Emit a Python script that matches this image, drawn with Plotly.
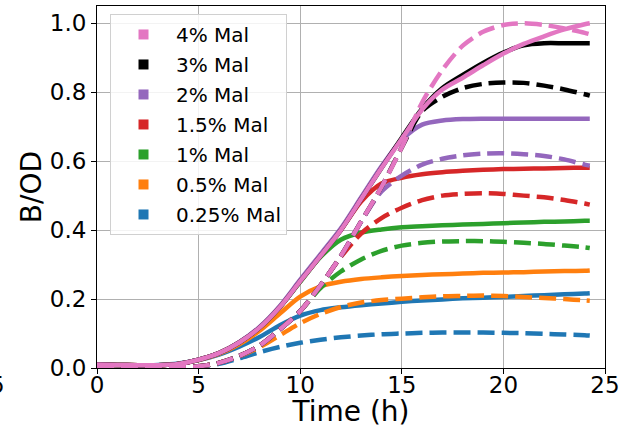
import plotly.graph_objects as go

# Sampling times (h)
time_h = [0, 1, 2, 3, 4, 5, 6, 7, 8, 9, 10, 11, 12, 13, 14, 15, 16, 17, 18, 19,
          20, 21, 22, 23, 24, 24.25]

labels = ["4% Mal", "3% Mal", "2% Mal", "1.5% Mal", "1% Mal", "0.5% Mal", "0.25% Mal"]
colors = ["#e377c2", "#000000", "#9467bd", "#d62728", "#2ca02c", "#ff7f0e", "#1f77b4"]

# Measured B/OD (solid lines)
meas_4 = [0.010, 0.009, 0.008, 0.008, 0.012, 0.024, 0.043, 0.074, 0.117, 0.177, 0.252,
          0.325, 0.400, 0.490, 0.580, 0.665, 0.750, 0.808, 0.842, 0.878, 0.912, 0.940,
          0.962, 0.982, 0.997, 1.000]
meas_3 = [0.010, 0.009, 0.008, 0.008, 0.012, 0.024, 0.043, 0.074, 0.117, 0.177, 0.252,
          0.325, 0.400, 0.490, 0.580, 0.668, 0.752, 0.812, 0.850, 0.885, 0.915, 0.936,
          0.942, 0.942, 0.942, 0.942]
meas_2 = [0.010, 0.009, 0.008, 0.008, 0.012, 0.024, 0.043, 0.075, 0.119, 0.180, 0.256,
          0.330, 0.405, 0.495, 0.585, 0.662, 0.706, 0.718, 0.722, 0.723, 0.723, 0.723,
          0.723, 0.723, 0.723, 0.723]
meas_15 = [0.010, 0.009, 0.008, 0.008, 0.012, 0.024, 0.043, 0.074, 0.117, 0.177, 0.252,
           0.325, 0.400, 0.483, 0.535, 0.552, 0.562, 0.568, 0.572, 0.575, 0.577, 0.578,
           0.579, 0.580, 0.581, 0.581]
meas_1 = [0.010, 0.009, 0.008, 0.008, 0.012, 0.024, 0.043, 0.074, 0.117, 0.177, 0.250,
          0.322, 0.372, 0.393, 0.402, 0.408, 0.411, 0.414, 0.416, 0.418, 0.420, 0.422,
          0.424, 0.425, 0.427, 0.427]
meas_05 = [0.010, 0.009, 0.008, 0.008, 0.012, 0.023, 0.041, 0.069, 0.108, 0.158, 0.207,
           0.237, 0.250, 0.258, 0.263, 0.267, 0.270, 0.272, 0.274, 0.276, 0.277, 0.278,
           0.280, 0.281, 0.282, 0.283]
meas_025 = [0.010, 0.009, 0.008, 0.009, 0.013, 0.023, 0.039, 0.062, 0.090, 0.124, 0.152,
            0.168, 0.176, 0.182, 0.187, 0.192, 0.196, 0.199, 0.202, 0.204, 0.206, 0.209,
            0.211, 0.214, 0.216, 0.217]

# Model B/OD (dashed lines)
model_4 = [0.002, 0.002, 0.002, 0.002, 0.003, 0.005, 0.015, 0.035, 0.065, 0.112, 0.165,
           0.240, 0.325, 0.425, 0.525, 0.640, 0.770, 0.865, 0.935, 0.975, 0.995, 1.000,
           0.995, 0.985, 0.972, 0.968]
model_3 = [0.002, 0.002, 0.002, 0.002, 0.003, 0.005, 0.015, 0.035, 0.065, 0.112, 0.165,
           0.240, 0.325, 0.425, 0.525, 0.640, 0.745, 0.787, 0.812, 0.824, 0.828, 0.827,
           0.819, 0.808, 0.794, 0.790]
model_2 = [0.002, 0.002, 0.002, 0.002, 0.003, 0.005, 0.015, 0.035, 0.065, 0.112, 0.165,
           0.240, 0.325, 0.425, 0.512, 0.558, 0.590, 0.607, 0.617, 0.622, 0.623, 0.620,
           0.615, 0.605, 0.590, 0.587]
model_15 = [0.002, 0.002, 0.002, 0.002, 0.003, 0.005, 0.015, 0.035, 0.065, 0.112, 0.165,
            0.240, 0.322, 0.390, 0.435, 0.465, 0.487, 0.500, 0.505, 0.507, 0.505, 0.500,
            0.495, 0.487, 0.477, 0.474]
model_1 = [0.002, 0.002, 0.002, 0.002, 0.003, 0.005, 0.015, 0.035, 0.065, 0.112, 0.165,
           0.232, 0.280, 0.315, 0.340, 0.355, 0.363, 0.367, 0.368, 0.368, 0.366, 0.363,
           0.360, 0.355, 0.350, 0.348]
model_05 = [0.002, 0.002, 0.002, 0.002, 0.003, 0.005, 0.015, 0.034, 0.060, 0.095, 0.130,
            0.157, 0.177, 0.190, 0.197, 0.201, 0.205, 0.208, 0.209, 0.210, 0.209, 0.206,
            0.203, 0.200, 0.196, 0.195]
model_025 = [0.002, 0.002, 0.002, 0.002, 0.003, 0.004, 0.012, 0.028, 0.046, 0.061, 0.073,
             0.082, 0.089, 0.094, 0.098, 0.100, 0.102, 0.103, 0.103, 0.103, 0.102, 0.101,
             0.099, 0.097, 0.095, 0.094]

measured = [meas_4, meas_3, meas_2, meas_15, meas_1, meas_05, meas_025]
modelled = [model_4, model_3, model_2, model_15, model_1, model_05, model_025]

fig = go.Figure()

# Lowest concentration drawn first so higher ones sit on top
for i in reversed(range(len(labels))):
    fig.add_trace(go.Scatter(
        x=time_h, y=measured[i], mode="lines",
        line=dict(color=colors[i], width=4.5, shape="spline", smoothing=0.8),
        showlegend=False, hoverinfo="skip"))
    fig.add_trace(go.Scatter(
        x=time_h, y=modelled[i], mode="lines",
        line=dict(color=colors[i], width=4.5, dash="17px,7px", shape="spline", smoothing=0.8),
        showlegend=False, hoverinfo="skip"))

# Legend handles: square markers
for i in range(len(labels)):
    fig.add_trace(go.Scatter(
        x=[None], y=[None], mode="markers", name=labels[i],
        marker=dict(symbol="square", size=10, color=colors[i]),
        legendgroup=labels[i]))

font_family = "DejaVu Sans"

fig.update_layout(
    width=620, height=428,
    margin=dict(l=97, r=15, t=6, b=60, autoexpand=False),
    paper_bgcolor="white", plot_bgcolor="white",
    font=dict(family=font_family, color="black"),
    showlegend=True,
    legend=dict(
        x=0.0256, y=0.978, xanchor="left", yanchor="top",
        bgcolor="rgba(255,255,255,0.85)", bordercolor="#d0d0d0", borderwidth=1,
        font=dict(size=20, family=font_family), traceorder="grouped",
        tracegroupgap=1, itemwidth=55),
    xaxis=dict(
        range=[0, 25], tickvals=[0, 5, 10, 15, 20, 25], automargin=False,
        showgrid=True, gridcolor="#b0b0b0", gridwidth=1,
        showline=True, linecolor="black", linewidth=1, mirror=True,
        ticks="outside", ticklen=5, tickcolor="black", ticklabelstandoff=-9,
        tickfont=dict(size=23), zeroline=False,
        title=dict(text="Time (h)", font=dict(size=28), standoff=23)),
    yaxis=dict(
        range=[0, 1.05], tickvals=[0, 0.2, 0.4, 0.6, 0.8, 1.0], tickformat=".1f",
        automargin=False,
        showgrid=True, gridcolor="#b0b0b0", gridwidth=1,
        showline=True, linecolor="black", linewidth=1, mirror=True,
        ticks="outside", ticklen=5, tickcolor="black",
        tickfont=dict(size=23), zeroline=False,
        title=dict(text="B/OD", font=dict(size=28), standoff=0)),
)

# Edge of the neighbouring panel's tick label
fig.add_annotation(text="5", xref="paper", yref="paper", x=-0.177, y=-0.047,
                   xanchor="right", yanchor="middle", showarrow=False,
                   font=dict(size=23, family=font_family))

fig.write_html("out.html")
